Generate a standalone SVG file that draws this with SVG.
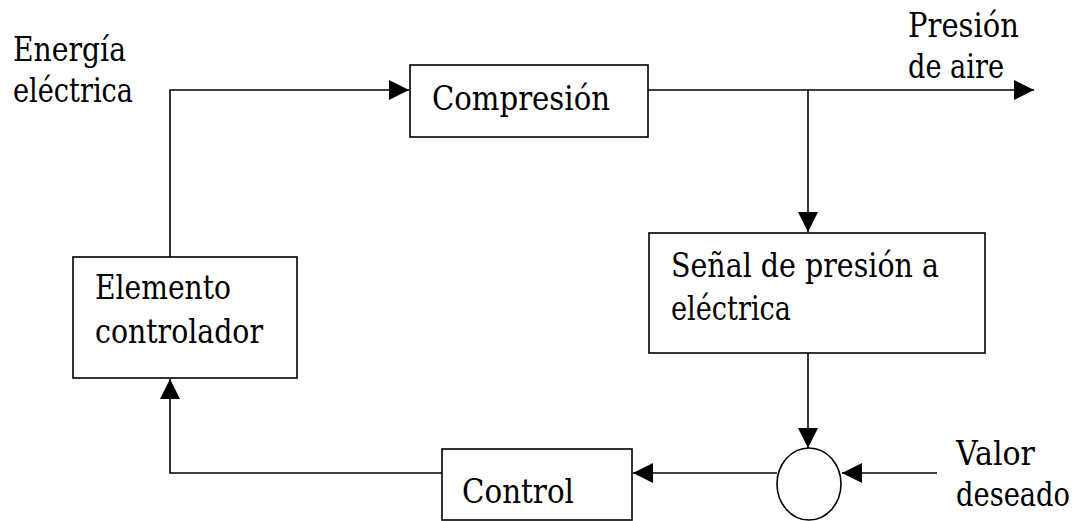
<svg xmlns="http://www.w3.org/2000/svg" width="1078" height="521" viewBox="0 0 1078 521">
  <style>
    .box { fill: #ffffff; stroke: #000000; stroke-width: 1.6; }
    .wire { fill: none; stroke: #000000; stroke-width: 1.6; }
    .txt { font-family: "DejaVu Serif", "Liberation Serif", serif; font-size: 33px; fill: #000000; }
  </style>
  <defs>
    <marker id="arrow" viewBox="0 0 20 20" refX="20" refY="10" markerWidth="20" markerHeight="20" markerUnits="userSpaceOnUse" orient="auto">
      <path d="M0,0 L20,10 L0,20 Z" fill="#000000"/>
    </marker>
  </defs>
  <rect width="1078" height="521" fill="#ffffff"/>

  <g id="connectors">
    <path class="wire" d="M170,257 V90 H409" marker-end="url(#arrow)"/>
    <path class="wire" d="M648,90 H1034" marker-end="url(#arrow)"/>
    <path class="wire" d="M808,90 V232" marker-end="url(#arrow)"/>
    <path class="wire" d="M808,353 V448" marker-end="url(#arrow)"/>
    <path class="wire" d="M937,473 H842" marker-end="url(#arrow)"/>
    <path class="wire" d="M777,473 H633" marker-end="url(#arrow)"/>
    <path class="wire" d="M442,473 H170 V379" marker-end="url(#arrow)"/>
  </g>

  <g id="label-energia">
    <text class="txt" x="13" y="61" textLength="113" lengthAdjust="spacingAndGlyphs">Energía</text>
    <text class="txt" x="13" y="102" textLength="120" lengthAdjust="spacingAndGlyphs">eléctrica</text>
  </g>

  <g id="label-presion-aire">
    <text class="txt" x="908" y="37" textLength="111" lengthAdjust="spacingAndGlyphs">Presión</text>
    <text class="txt" x="908" y="78" textLength="96" lengthAdjust="spacingAndGlyphs">de aire</text>
  </g>

  <g id="label-valor-deseado">
    <text class="txt" x="956" y="465" textLength="79" lengthAdjust="spacingAndGlyphs">Valor</text>
    <text class="txt" x="956" y="506" textLength="114" lengthAdjust="spacingAndGlyphs">deseado</text>
  </g>

  <g id="node-compresion">
    <rect class="box" x="410" y="65" width="238" height="72"/>
    <text class="txt" x="432" y="110" textLength="178" lengthAdjust="spacingAndGlyphs">Compresión</text>
  </g>

  <g id="node-senal">
    <rect class="box" x="649" y="233" width="336" height="120"/>
    <text class="txt" x="671" y="277" textLength="268" lengthAdjust="spacingAndGlyphs">Señal de presión a</text>
    <text class="txt" x="671" y="320" textLength="120" lengthAdjust="spacingAndGlyphs">eléctrica</text>
  </g>

  <g id="node-elemento">
    <rect class="box" x="73" y="257" width="224" height="121"/>
    <text class="txt" x="95" y="299" textLength="136" lengthAdjust="spacingAndGlyphs">Elemento</text>
    <text class="txt" x="95" y="343" textLength="168" lengthAdjust="spacingAndGlyphs">controlador</text>
  </g>

  <g id="node-control">
    <rect class="box" x="442" y="449" width="190" height="71"/>
    <text class="txt" x="462" y="503" textLength="112" lengthAdjust="spacingAndGlyphs">Control</text>
  </g>

  <g id="node-sumador">
    <ellipse class="box" cx="809" cy="484" rx="32" ry="36"/>
  </g>
</svg>
